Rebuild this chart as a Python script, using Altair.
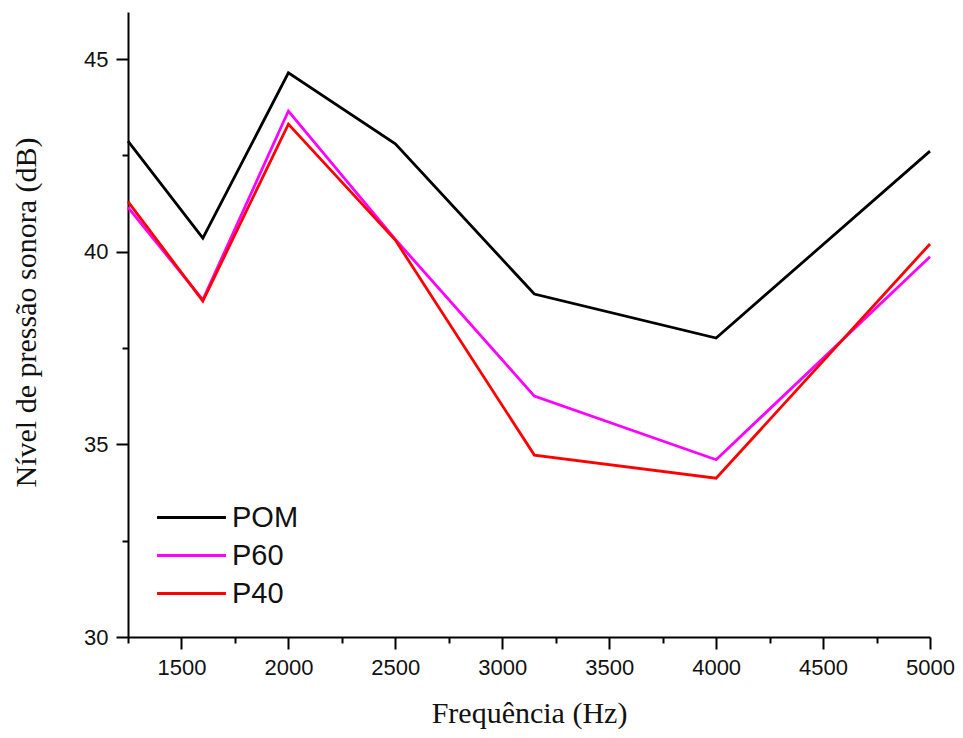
import altair as alt
import pandas as pd

freq = [1250, 1600, 2000, 2500, 3150, 4000, 5000]
pom = [42.87, 40.35, 44.64, 42.80, 38.90, 37.76, 42.61]
p60 = [41.15, 38.75, 43.65, 40.32, 36.25, 34.60, 39.87]
p40 = [41.30, 38.72, 43.31, 40.30, 34.72, 34.12, 40.20]
series = ["POM", "P60", "P40"]
colors = ["#000000", "#ff00ff", "#ff0000"]

rows = []
for name, vals in zip(series, [pom, p60, p40]):
    for f, v in zip(freq, vals):
        rows.append({"f": f, "v": v, "s": name})
df = pd.DataFrame(rows)

x_ticks = list(range(1250, 5001, 250))
y_ticks = [30, 32.5, 35, 37.5, 40, 42.5, 45]

common = dict(grid=False, labelFont="Liberation Sans", labelFontSize=22,
              labelColor="#111", titleFont="Liberation Serif", titleFontSize=30,
              titleFontWeight="normal", titleColor="#111",
              domainColor="#000", domainWidth=2, tickColor="#000", tickWidth=2,
              labelFlush=False)

chart = alt.Chart(df).mark_line(strokeWidth=2.8, strokeJoin="miter").encode(
    x=alt.X("f:Q", scale=alt.Scale(domain=[1250, 5000], nice=False, zero=False),
            axis=alt.Axis(title="Frequência (Hz)", values=x_ticks,
                          labelExpr="datum.value % 500 == 0 ? datum.value : ''",
                          tickSize={"condition": {"test": "datum.value % 500 == 0", "value": 12}, "value": 6},
                          labelPadding=8, titlePadding=20, **common)),
    y=alt.Y("v:Q", scale=alt.Scale(domain=[30, 46.22], nice=False, zero=False),
            axis=alt.Axis(title="Nível de pressão sonora (dB)", values=y_ticks,
                          labelExpr="datum.value % 5 == 0 ? datum.value : ''",
                          tickSize={"condition": {"test": "datum.value % 5 == 0", "value": 12}, "value": 6},
                          labelPadding=8, titlePadding=42, titleY=300, **common)),
    color=alt.Color("s:N", scale=alt.Scale(domain=series, range=colors),
                    legend=alt.Legend(title=None, orient="none", legendX=48, legendY=490,
                                      padding=0,
                                      symbolType="M-2.46,0H2.46", symbolSize=784,
                                      symbolStrokeWidth=2.8,
                                      labelFont="Liberation Sans", labelFontSize=29,
                                      labelColor="#111", rowPadding=7, labelOffset=25)),
).properties(
    width=802, height=625,
    autosize=alt.AutoSizeParams(type="none"),
    padding={"left": 120, "top": 4, "right": 25, "bottom": 100},
).configure_view(stroke=None)

chart.save("out.html", embed_options={"renderer": "svg", "actions": False})
